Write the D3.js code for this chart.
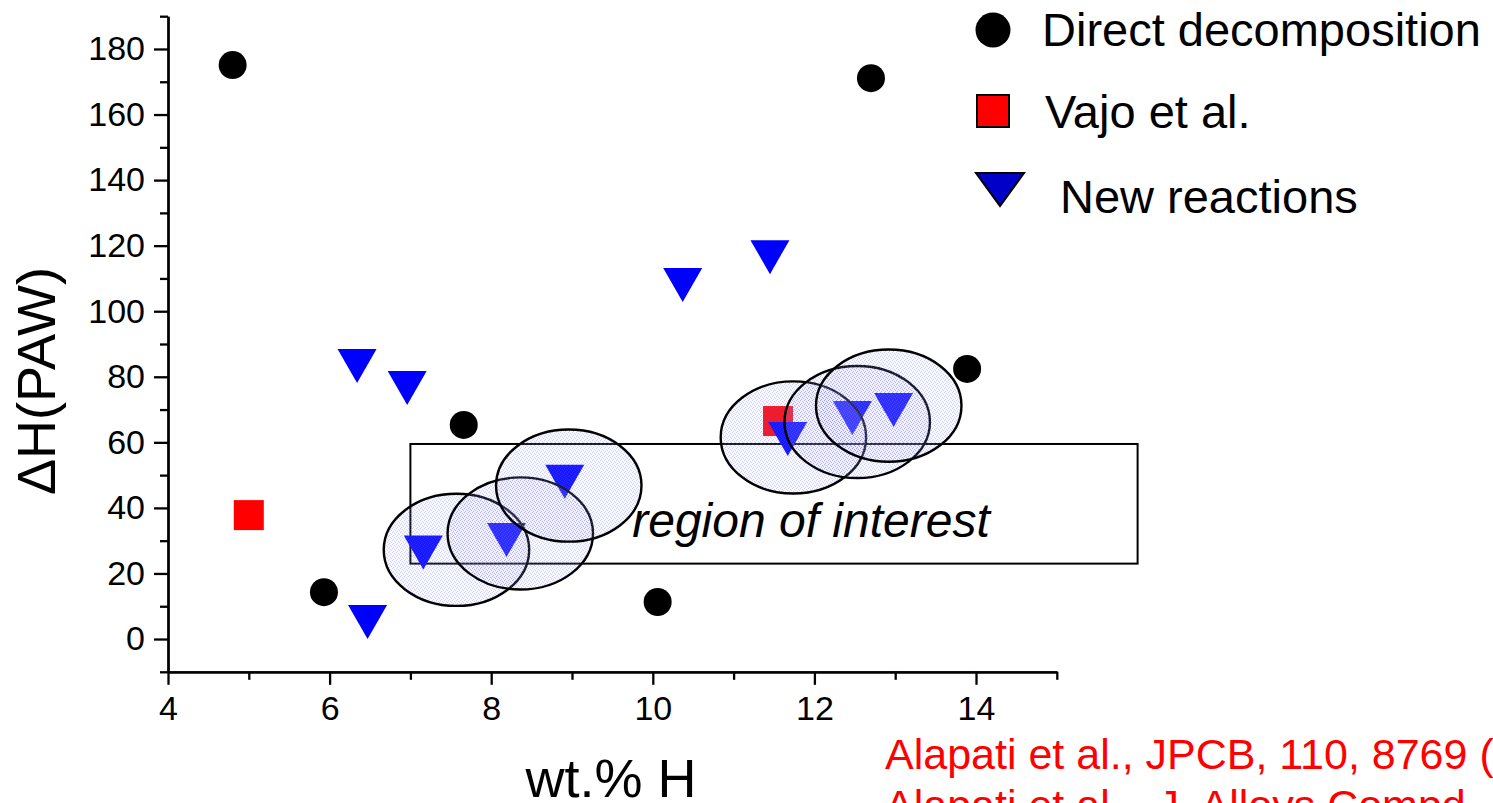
<!DOCTYPE html>
<html>
<head>
<meta charset="utf-8">
<script src="https://cdn.jsdelivr.net/npm/d3@7"></script>
<style>
  html, body { margin: 0; padding: 0; background: #fff; overflow: hidden; }
  svg { display: block; font-family: "Liberation Sans", Arial, sans-serif; }
  .pre { white-space: pre; }
</style>
</head>
<body>
<svg id="chart" width="1493" height="803"></svg>
<script>
// Hydrogen storage reactions: enthalpy vs. hydrogen capacity
const directX = [4.80, 12.70, 13.89, 7.66, 5.93, 10.06];
const directY = [175.1, 171.1, 82.4, 65.3, 14.3, 11.3];

const vajoX = [5.00, 11.55];
const vajoY = [37.8, 66.5];

const newX = [6.34, 6.96, 6.47, 10.37, 11.45, 7.16, 8.19, 8.91, 11.67, 12.47, 12.98];
const newY = [83.3, 76.6, 5.2, 108.0, 116.5, 26.4, 30.2, 48.0, 61.0, 67.4, 69.9];

// highlighted candidates (ellipse centres, data units)
const hiX = [7.57, 8.36, 8.96, 11.74, 12.53, 12.92];
const hiY = [27.2, 32.2, 46.8, 61.5, 66.2, 71.2];
const hiRx = 0.9;   // wt.% H
const hiRy = 17.1;  // ΔH units

// region of interest box
const roiX = [7, 16];
const roiY = [23, 59.5];

const xMajor = [4, 6, 8, 10, 12, 14];
const xMinor = [5, 7, 9, 11, 13, 15];
const yMajor = [0, 20, 40, 60, 80, 100, 120, 140, 160, 180];
const yMinor = [-10, 10, 30, 50, 70, 90, 110, 130, 150, 170, 190];

const legendLabels = ["Direct decomposition", "Vajo et al.", "New reactions"];
const refs = ["Alapati et al., JPCB, 110, 8769 (2006)",
              "Alapati et al.,  J. Alloys Compd. 446-447, 23 (2007)"];

const svg = d3.select("#chart");

const x = d3.scaleLinear().domain([4, 15]).range([168, 1056.8]);
const y = d3.scaleLinear().domain([-10, 190]).range([671.8, 16.2]);

// stippled translucent fill for the highlight ellipses
const defs = svg.append("defs");
const pat = defs.append("pattern").attr("id", "stipple")
  .attr("patternUnits", "userSpaceOnUse").attr("width", 4).attr("height", 4);
pat.append("rect").attr("width", 4).attr("height", 4).attr("fill", "#c8c8ff").attr("fill-opacity", 0.12);
[[0,0],[2,1],[1,3],[3,2]].forEach(([a,b]) =>
  pat.append("rect").attr("x", a).attr("y", b).attr("width", 1).attr("height", 1)
     .attr("fill", "#5a5aff").attr("fill-opacity", 0.26));

// axes
const axisStyle = g => {
  g.selectAll("path, line").attr("stroke", "#000").attr("stroke-width", 2.3);
  g.selectAll("text").attr("fill", "#000").style("font-size", "34px")
   .style("font-family", "'Liberation Sans', Arial, sans-serif");
};

svg.append("g").attr("transform", `translate(0,${y(-10)})`)
  .call(d3.axisBottom(x).tickValues(xMinor).tickSize(8).tickSizeOuter(0).tickFormat(""))
  .call(axisStyle);
svg.append("g").attr("transform", `translate(0,${y(-10)})`)
  .call(d3.axisBottom(x).tickValues(xMajor).tickSize(13).tickSizeOuter(0).tickPadding(11).tickFormat(d3.format("d")))
  .call(axisStyle);

svg.append("g").attr("transform", `translate(${x(4)},0)`)
  .call(d3.axisLeft(y).tickValues(yMinor).tickSize(8).tickSizeOuter(0).tickFormat(""))
  .call(axisStyle);
svg.append("g").attr("transform", `translate(${x(4)},0)`)
  .call(d3.axisLeft(y).tickValues(yMajor).tickSize(14).tickSizeOuter(0).tickPadding(9).tickFormat(d3.format("d")))
  .call(axisStyle);

// axis titles
svg.append("text").attr("x", 611).attr("y", 797).attr("text-anchor", "middle")
  .style("font-size", "54px").text("wt.% H");
svg.append("text").attr("transform", "translate(55,381) rotate(-90)").attr("text-anchor", "middle")
  .style("font-size", "54px").text("ΔH(PAW)");

// region of interest box
svg.append("rect")
  .attr("x", x(roiX[0])).attr("y", y(roiY[1]))
  .attr("width", x(roiX[1]) - x(roiX[0])).attr("height", y(roiY[0]) - y(roiY[1]))
  .attr("fill", "none").attr("stroke", "#000").attr("stroke-width", 2);
svg.append("text").attr("x", 811).attr("y", 537).attr("text-anchor", "middle")
  .style("font-size", "48px").style("font-style", "italic").text("region of interest");

// markers
const downTri = (cx, cy, w, h) =>
  `M${cx - w / 2},${cy - h / 2}L${cx + w / 2},${cy - h / 2}L${cx},${cy + h / 2}Z`;

svg.append("g").selectAll("circle").data(directX).join("circle")
  .attr("cx", (d, i) => x(d)).attr("cy", (d, i) => y(directY[i])).attr("r", 14).attr("fill", "#000");

svg.append("g").selectAll("rect").data(vajoX).join("rect")
  .attr("x", (d, i) => x(d) - 15).attr("y", (d, i) => y(vajoY[i]) - 15)
  .attr("width", 30).attr("height", 30).attr("fill", "#ff0000");

svg.append("g").selectAll("path").data(newX).join("path")
  .attr("d", (d, i) => downTri(x(d), y(newY[i]), 39, 34)).attr("fill", "#0000ff");

// highlight ellipses
svg.append("g").selectAll("ellipse").data(hiX).join("ellipse")
  .attr("cx", d => x(d)).attr("cy", (d, i) => y(hiY[i]))
  .attr("rx", x(4 + hiRx) - x(4)).attr("ry", y(0) - y(hiRy))
  .attr("fill", "url(#stipple)").attr("stroke", "#000").attr("stroke-width", 2.4);

// legend
const lg = svg.append("g");
lg.append("circle").attr("cx", 993).attr("cy", 30).attr("r", 17.5).attr("fill", "#000");
lg.append("rect").attr("x", 977).attr("y", 95).attr("width", 32).attr("height", 32)
  .attr("fill", "#ff0000").attr("stroke", "#000").attr("stroke-width", 2);
lg.append("path").attr("d", downTri(1000, 189.5, 48, 33))
  .attr("fill", "#0000c8").attr("stroke", "#000").attr("stroke-width", 2);
const lgPos = [[1042, 46], [1045, 128], [1060, 213]];
lg.selectAll("text").data(legendLabels).join("text")
  .attr("x", (d, i) => lgPos[i][0]).attr("y", (d, i) => lgPos[i][1])
  .style("font-size", "47px").text(d => d);

// references
svg.append("g").selectAll("text").data(refs).join("text").attr("class", "pre")
  .attr("x", 885).attr("y", (d, i) => 769 + i * 51)
  .attr("fill", "#ff0000").style("font-size", "43px").text(d => d);
</script>
</body>
</html>
